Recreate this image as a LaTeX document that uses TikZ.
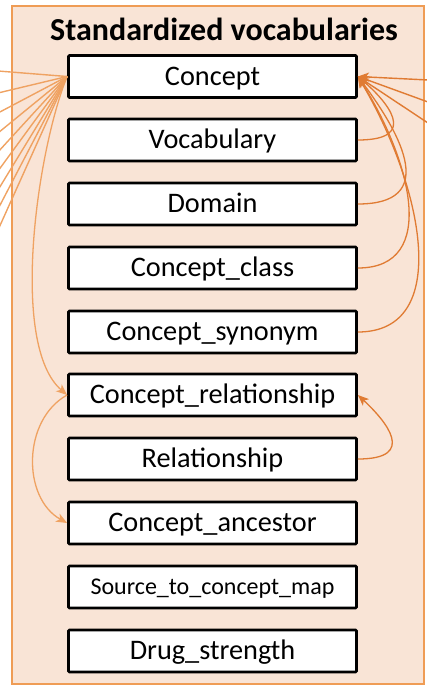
\documentclass[tikz,border=0pt]{standalone}
\usepackage{fontspec}
\setmainfont{Carlito}
\usetikzlibrary{arrows.meta}
\definecolor{panelfill}{HTML}{F9E4D6}
\definecolor{panelline}{HTML}{EF9C55}
\definecolor{linkline}{HTML}{E07B33}
\definecolor{fanline}{HTML}{EFA262}

\begin{document}
\begin{tikzpicture}[x=1pt,y=1pt,
  table/.style={draw=black, line width=2.8pt, fill=white, rounded corners=1pt,
    minimum width=288pt, minimum height=42pt, inner sep=0pt,
    text height=17.5pt, text depth=0pt,
    font=\fontsize{28.3}{32}\selectfont},
  smalltable/.style={table, text height=15pt, font=\fontsize{24}{28}\selectfont},
  tip/.style={-{Stealth[length=11pt,width=9pt,inset=3pt]}},
  fan/.style={draw=fanline, line width=1.4pt},
  link/.style={draw=linkline, line width=1.3pt, tip},
]
\useasboundingbox (0,0) rectangle (426,-687);

% panel and heading
\node[draw=panelline, fill=panelfill, line width=2.5pt, minimum width=412pt,
      minimum height=678pt, inner sep=0pt] (panel) at (218,-345) {};
\node[font=\bfseries\fontsize{32}{36}\selectfont, anchor=base] (title) at (224,-41)
  {Standardized vocabularies};

% tables
\node[table] (concept) at (212.5,-76.5) {Concept};
\node[table] (vocab)   at (212.5,-140)  {Vocabulary};
\node[table] (domain)  at (212.5,-204)  {Domain};
\node[table] (cclass)  at (212.5,-268)  {Concept\_class};
\node[table] (csyn)    at (212.5,-332)  {Concept\_synonym};
\node[table] (crel)    at (212.5,-395)  {Concept\_relationship};
\node[table] (rel)     at (212.5,-459)  {Relationship};
\node[table] (canc)    at (212.5,-523)  {Concept\_ancestor};
\node[smalltable] (stcm) at (212.5,-587) {Source\_to\_concept\_map};
\node[table] (drug)    at (212.5,-651)  {Drug\_strength};

% links arriving from the left
\foreach \i/\y in {1/71,2/93,3/113,4/133,5/152,6/171,7/190,8/209,9/230}
  \coordinate (l\i) at (-2,-\y);
\foreach \i in {1,...,9}
  \draw[fan] (l\i) -- (concept.west);

% links arriving from the right
\coordinate (r1) at (428,-80);
\coordinate (r2) at (428,-102);
\coordinate (r3) at (428,-123);
\foreach \i in {1,2,3}
  \draw[fan, draw=linkline, tip] (r\i) -- (concept.east);

% references to Concept on the right
\draw[link] (vocab.east)  .. controls +(63,0) and +(28,-24)  .. (concept.east);
\draw[link] (domain.east) .. controls +(80,0) and +(45,-60)  .. (concept.east);
\draw[link] (cclass.east) .. controls +(82,0) and +(52,-82)  .. (concept.east);
\draw[link] (csyn.east)   .. controls +(95,0) and +(65,-110) .. (concept.east);
\draw[link] (rel.east)    .. controls +(60,0) and +(28,-26)  .. (crel.east);

% links on the left
\draw[link, draw=fanline] (concept.west) .. controls +(-30,-74) and +(-58,50) .. (crel.west);
\draw[link, draw=fanline] (crel.west) .. controls +(-45,-25) and +(-45,25) .. (canc.west);
\end{tikzpicture}
\end{document}
